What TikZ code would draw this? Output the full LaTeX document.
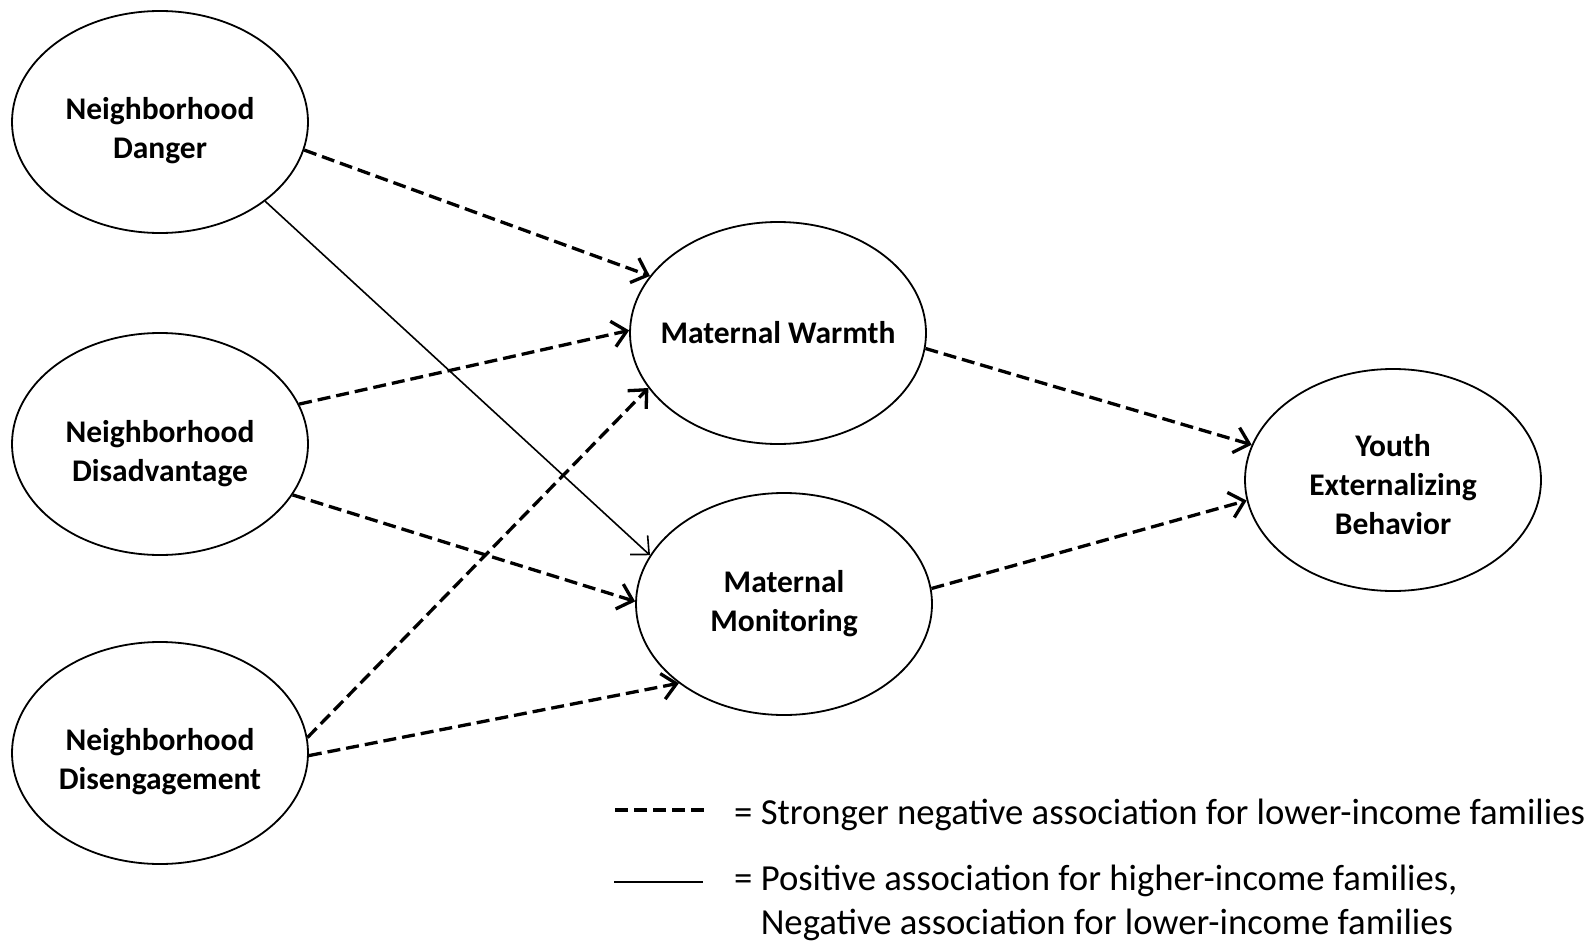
\documentclass[tikz,border=0pt]{standalone}
\usepackage{fontspec}
\setmainfont{Carlito}
\usetikzlibrary{shapes.geometric,arrows.meta}

% extra room above the first text line, which sets the text a little low
\newcommand{\lowtext}[1]{\rule{0pt}{#1}}

\tikzset{
  construct/.style={ellipse, draw, line width=1.8pt, minimum width=296pt,
    minimum height=222pt, inner xsep=-40pt, inner ysep=0pt, align=center,
    font=\fontsize{31.5}{39}\selectfont\bfseries},
  neglink/.style={line width=3.3pt, dash pattern=on 13pt off 6pt,
    -{Straight Barb[length=14pt,width=26pt]}},
  poslink/.style={line width=1.6pt, -{Straight Barb[length=14pt,width=26pt]}},
  legendtext/.style={anchor=west, inner sep=0pt, align=left,
    font=\fontsize{36.7}{44}\selectfont}
}

\begin{document}
\begin{tikzpicture}[x=1pt, y=-1pt]
  \useasboundingbox (0,0) rectangle (1593,942);

  % predictors
  \node[construct] (danger) at (160,122) {\lowtext{40pt}Neighborhood\\Danger};
  \node[construct] (disadv) at (160,444) {\lowtext{42pt}Neighborhood\\Disadvantage};
  \node[construct] (diseng) at (160,753) {\lowtext{40pt}Neighborhood\\Disengagement};

  % mediators
  \node[construct] (warmth) at (778,333) {Maternal Warmth};
  \node[construct] (monit)  at (784,604) {Maternal\\Monitoring};

  % outcome
  \node[construct] (youth) at (1393,480) {\lowtext{32pt}Youth\\Externalizing\\Behavior};

  % paths
  \draw[neglink] (danger.-11)  -- (warmth.156);
  \draw[poslink] (danger.-37)  -- (monit.160);
  \draw[neglink] (disadv.16)   -- (warmth.179);
  \draw[neglink] (disadv.-21)  -- (monit.179);
  \draw[neglink] (diseng.6)    -- (warmth.203);
  \draw[neglink] (diseng.-1)   -- (monit.217);
  \draw[neglink] (warmth.-6)   -- (youth.166);
  \draw[neglink] (monit.6)     -- (youth.188);

  % legend
  \coordinate (ndashA) at (615,810);
  \coordinate (ndashB) at (706,810);
  \coordinate (psolA) at (614,882);
  \coordinate (psolB) at (703,882);
  \draw[line width=3.3pt, dash pattern=on 13pt off 6pt] (ndashA) -- (ndashB);
  \draw[line width=1.6pt] (psolA) -- (psolB);
  \node[legendtext] (legneg) at (734,815)
    {= Stronger negative association for lower-income families};
  \node[legendtext] (legpos) at (734,903)
    {= Positive association for higher-income families,\\
     \phantom{= }Negative association for lower-income families};
\end{tikzpicture}
\end{document}
